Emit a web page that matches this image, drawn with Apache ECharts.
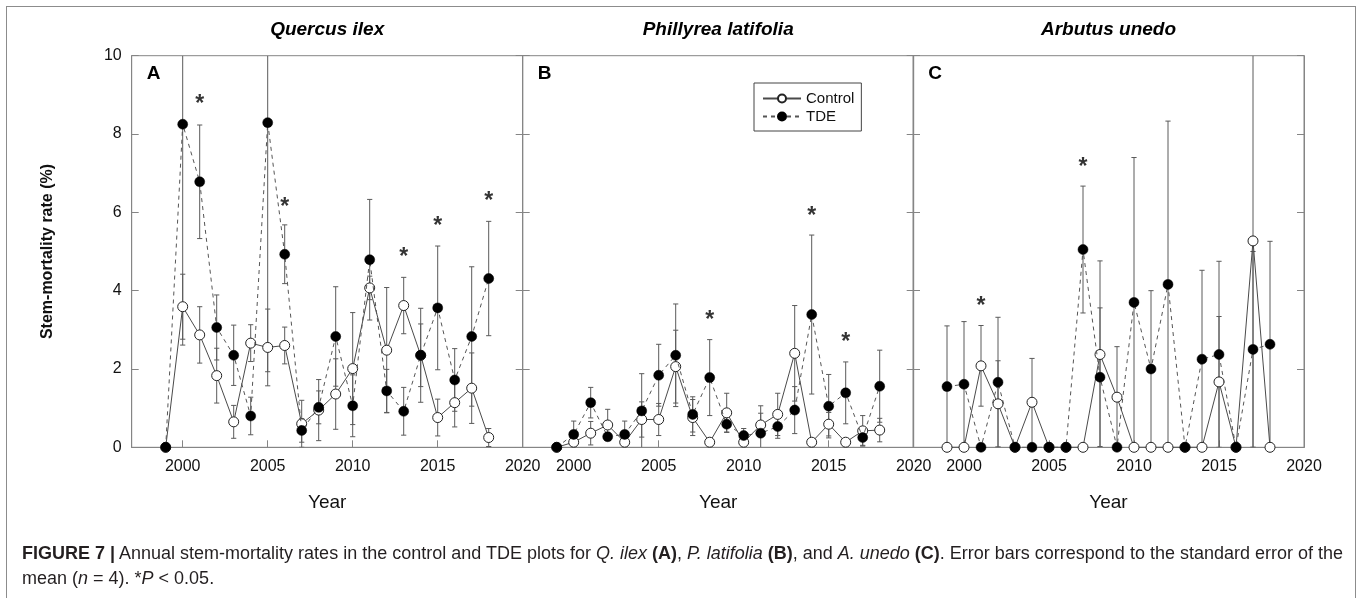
<!DOCTYPE html>
<html>
<head>
<meta charset="utf-8">
<script src="https://cdn.jsdelivr.net/npm/echarts@6/dist/echarts.min.js"></script>
<style>
  html, body { margin: 0; padding: 0; background: #fff; }
  #main { width: 1360px; height: 598px; }
  #frame { position: absolute; left: 6px; top: 6px; width: 1348px; height: 640px; border: 1.5px solid #8c8c8c; border-bottom: none; pointer-events: none; }
  .cap { position: absolute; left: 22px; font-family: 'Liberation Sans Narrow', 'Liberation Sans', Arial, sans-serif; font-size: 17.5px; color: #231f20; white-space: nowrap; transform-origin: 0 50%; line-height: 20px; }
</style>
</head>
<body>
<div id="main"></div>
<div id="frame"></div>
<div class="cap" id="cap1" style="top:543px"><b>FIGURE 7 |</b> Annual stem-mortality rates in the control and TDE plots for <i>Q. ilex</i> <b>(A)</b>, <i>P. latifolia</i> <b>(B)</b>, and <i>A. unedo</i> <b>(C)</b>. Error bars correspond to the standard error of the</div>
<div class="cap" id="cap2" style="top:568px">mean (<i>n</i> = 4). *<i>P</i> &lt; 0.05.</div>
<script>
// survey years
const years = [1999, 2000, 2001, 2002, 2003, 2004, 2005, 2006, 2007, 2008, 2009, 2010, 2011, 2012, 2013, 2014, 2015, 2016, 2017, 2018]
const yearTicks = [2000, 2005, 2010, 2015, 2020]

// Quercus ilex
const ilexCtrl = [0, 3.59, 2.87, 1.83, 0.65, 2.66, 2.55, 2.60, 0.60, 0.95, 1.36, 2.01, 4.07, 2.48, 3.62, 2.35, 0.76, 1.14, 1.51, 0.25]
const ilexCtrlSe = [0, 0.83, 0.72, 0.70, 0.42, 0.47, 0.98, 0.47, 0.60, 0.78, 0.90, 1.43, 0.30, 1.60, 0.72, 0.80, 0.47, 0.62, 0.90, 0.23]
const ilexTde = [0, 8.25, 6.78, 3.06, 2.35, 0.80, 8.29, 4.93, 0.43, 1.02, 2.83, 1.06, 4.79, 1.44, 0.92, 2.35, 3.56, 1.72, 2.83, 4.31]
const ilexTdeSe = [0, 5.64, 1.45, 0.83, 0.77, 0.48, 6.36, 0.75, 0.30, 0.42, 1.27, 0.79, 1.54, 0.55, 0.61, 1.20, 1.58, 0.80, 1.78, 1.46]
const ilexSig = [[2001, 8.87], [2006, 6.26], [2013, 4.96], [2015, 5.75], [2018, 6.39]]

// Phillyrea latifolia
const latiCtrl = [0, 0.13, 0.36, 0.57, 0.13, 0.71, 0.71, 2.06, 0.76, 0.13, 0.88, 0.13, 0.57, 0.84, 2.40, 0.13, 0.59, 0.13, 0.42, 0.44]
const latiCtrlSe = [0, 0.10, 0.30, 0.40, 0.10, 0.45, 0.41, 0.93, 0.46, 0.05, 0.50, 0.05, 0.30, 0.54, 1.22, 0.05, 0.30, 0.05, 0.39, 0.30]
const latiTde = [0, 0.33, 1.14, 0.27, 0.33, 0.93, 1.84, 2.35, 0.84, 1.78, 0.59, 0.30, 0.36, 0.53, 0.95, 3.39, 1.05, 1.39, 0.25, 1.56]
const latiTdeSe = [0, 0.34, 0.39, 0.10, 0.34, 0.95, 0.79, 1.31, 0.45, 0.97, 0.20, 0.18, 0.70, 0.30, 0.60, 2.03, 0.81, 0.79, 0.20, 0.92]
const latiSig = [[2008, 3.35], [2014, 6.02], [2016, 2.80]]

// Arbutus unedo
const unedoCtrl = [0, 0, 2.08, 1.11, 0, 1.15, 0, 0, 0, 2.37, 1.28, 0, 0, 0, 0, 0, 1.67, 0, 5.27, 0]
const unedoCtrlSe = [0, 0, 1.03, 1.10, 0, 1.12, 0, 0, 0, 2.39, 1.29, 0, 0, 0, 0, 0, 1.67, 0, 5.27, 0]
const unedoTde = [1.55, 1.61, 0, 1.66, 0, 0, 0, 0, 5.05, 1.79, 0, 3.70, 2.00, 4.16, 0, 2.25, 2.37, 0, 2.50, 2.63]
const unedoTdeSe = [1.55, 1.60, 0, 1.66, 0, 0, 0, 0, 1.62, 1.77, 0, 3.70, 2.00, 4.17, 0, 2.27, 2.38, 0, 2.50, 2.63]
const unedoSig = [[2001, 3.72], [2007, 7.27]]

const panels = [
  { title: 'Quercus ilex', letter: 'A', ctrl: ilexCtrl, ctrlSe: ilexCtrlSe, tde: ilexTde, tdeSe: ilexTdeSe, sig: ilexSig },
  { title: 'Phillyrea latifolia', letter: 'B', ctrl: latiCtrl, ctrlSe: latiCtrlSe, tde: latiTde, tdeSe: latiTdeSe, sig: latiSig },
  { title: 'Arbutus unedo', letter: 'C', ctrl: unedoCtrl, ctrlSe: unedoCtrlSe, tde: unedoTde, tdeSe: unedoTdeSe, sig: unedoSig },
]

const yMin = 0
const yMax = 10
const gridLeft = [131.7, 522.7, 913]
const gridW = 391
const gridTop = 55.7
const gridH = 391.6
const axisColor = '#858585'
const font = "'Liberation Sans', Arial, sans-serif"

function errorBars(params, api) {
  const x = api.value(0)
  const v = api.value(1)
  const e = api.value(2)
  if (!e) return null
  const lo = Math.max(v - e, yMin)
  const hi = Math.min(v + e, yMax)
  const pHi = api.coord([x, hi])
  const pLo = api.coord([x, lo])
  const hw = 2.6
  const style = { stroke: '#5a5a5a', lineWidth: 1 }
  const children = [{ type: 'line', shape: { x1: pHi[0], y1: pHi[1], x2: pLo[0], y2: pLo[1] }, style }]
  if (v + e <= yMax) children.push({ type: 'line', shape: { x1: pHi[0] - hw, y1: pHi[1], x2: pHi[0] + hw, y2: pHi[1] }, style })
  if (v - e >= yMin) children.push({ type: 'line', shape: { x1: pLo[0] - hw, y1: pLo[1], x2: pLo[0] + hw, y2: pLo[1] }, style })
  return { type: 'group', children }
}

const myChart = echarts.init(document.getElementById('main'))
const grid = []
const xAxis = []
const yAxis = []
const series = []
const graphic = []

panels.forEach((p, i) => {
  grid.push({ left: gridLeft[i], top: gridTop, width: gridW, height: gridH, show: true, borderColor: axisColor, borderWidth: 1, backgroundColor: 'transparent' })
  xAxis.push({
    type: 'value', gridIndex: i, min: 1997, max: 2020,
    axisLine: { lineStyle: { color: axisColor } },
    axisTick: { inside: true, length: 7, customValues: yearTicks, lineStyle: { color: axisColor } },
    axisLabel: { customValues: yearTicks, formatter: (v) => String(v), fontSize: 16, color: '#111', margin: 11, fontFamily: font },
    splitLine: { show: false },
    name: 'Year', nameLocation: 'middle', nameGap: 46,
    nameTextStyle: { fontSize: 19, color: '#111', fontFamily: font },
  })
  graphic.push({ type: 'text', x: gridLeft[i] + gridW / 2, y: 30, style: { text: p.title, font: "italic bold 19px 'Liberation Sans', Arial", fill: '#000', align: 'center', verticalAlign: 'middle' } })
  graphic.push({ type: 'text', x: gridLeft[i] + 22, y: 74, style: { text: p.letter, font: "bold 19px 'Liberation Sans', Arial", fill: '#000', align: 'center', verticalAlign: 'middle' } })
})
panels.forEach((p, i) => {
  yAxis.push({
    type: 'value', gridIndex: i, min: yMin, max: yMax, interval: 2, position: 'left',
    axisLine: { show: true, lineStyle: { color: axisColor } },
    axisTick: { show: true, inside: true, length: 7, lineStyle: { color: axisColor } },
    axisLabel: { show: i === 0, fontSize: 16, color: '#111', margin: 10, fontFamily: font },
    splitLine: { show: false },
    name: i === 0 ? 'Stem-mortality rate (%)' : '', nameLocation: 'middle', nameGap: 76,
    nameTextStyle: { fontSize: 16, fontWeight: 'bold', color: '#111', fontFamily: font },
  })
})
panels.forEach((p, i) => {
  yAxis.push({
    type: 'value', gridIndex: i, min: yMin, max: yMax, interval: 2, position: 'right',
    axisLine: { show: true, lineStyle: { color: axisColor } },
    axisTick: { show: true, inside: true, length: 7, lineStyle: { color: axisColor } },
    axisLabel: { show: false },
    splitLine: { show: false },
  })
})

panels.forEach((p, i) => {
  const ax = { xAxisIndex: i, yAxisIndex: i }
  series.push({
    type: 'custom', ...ax, clip: true, z: 1, silent: true,
    renderItem: errorBars,
    data: years.map((y, k) => [y, p.ctrl[k], p.ctrlSe[k]]),
  })
  series.push({
    type: 'custom', ...ax, clip: true, z: 1, silent: true,
    renderItem: errorBars,
    data: years.map((y, k) => [y, p.tde[k], p.tdeSe[k]]),
  })
  series.push({
    name: 'Control', type: 'line', ...ax, z: 3,
    symbol: 'circle', symbolSize: 10, showAllSymbol: true,
    lineStyle: { color: '#4a4a4a', width: 1 },
    itemStyle: { color: '#fff', borderColor: '#222', borderWidth: 1 },
    data: years.map((y, k) => [y, p.ctrl[k]]),
  })
  series.push({
    name: 'TDE', type: 'line', ...ax, z: 4,
    symbol: 'circle', symbolSize: 10, showAllSymbol: true,
    lineStyle: { color: '#555', width: 1, type: [4, 4] },
    itemStyle: { color: '#000', borderColor: '#000', borderWidth: 0.5 },
    data: years.map((y, k) => [y, p.tde[k]]),
  })
  series.push({
    type: 'scatter', ...ax, z: 5, silent: true,
    symbolSize: 1, itemStyle: { color: 'rgba(0,0,0,0)' },
    label: { show: true, position: 'inside', formatter: '*', fontSize: 23, fontWeight: 'bold', color: '#000', offset: [0, 5], fontFamily: font },
    data: p.sig,
  })
})

const option = {
  animation: false,
  textStyle: { fontFamily: font },
  grid, xAxis, yAxis, series, graphic,
  legend: {
    data: ['Control', 'TDE'],
    orient: 'vertical', left: 754, top: 83,
    padding: [8, 7, 7, 8], itemGap: 3,
    itemWidth: 38, itemHeight: 10,
    borderColor: '#444', borderWidth: 1,
    textStyle: { fontSize: 15, color: '#111', fontFamily: font },
    selectedMode: false,
  },
}
option && myChart.setOption(option)

// narrow caption lines to the printed width
const target = 1321
const cap1 = document.getElementById('cap1')
const cap2 = document.getElementById('cap2')
const s = target / cap1.getBoundingClientRect().width
cap1.style.transform = 'scaleX(' + s + ')'
cap2.style.transform = 'scaleX(' + s + ')'
</script>
</body>
</html>
